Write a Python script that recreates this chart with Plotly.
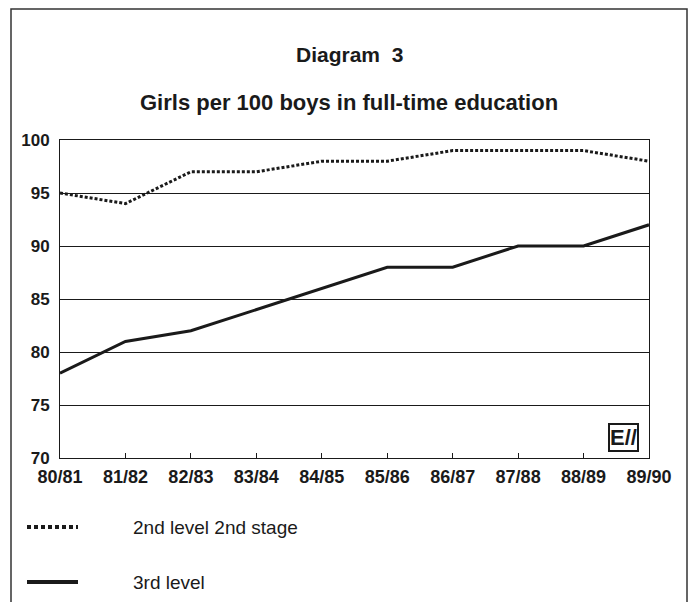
import plotly.graph_objects as go

years = ["80/81", "81/82", "82/83", "83/84", "84/85", "85/86", "86/87", "87/88", "88/89", "89/90"]
second_level = [95, 94, 97, 97, 98, 98, 99, 99, 99, 98]
third_level = [78, 81, 82, 84, 86, 88, 88, 90, 90, 92]
y_ticks = [70, 75, 80, 85, 90, 95, 100]
series_names = ["2nd level 2nd stage", "3rd level"]

W, H = 692, 602
L, R, T, B = 60, 649, 140, 458

def px(x):
    return (x - L) / (R - L)

def py(y):
    return (B - y) / (B - T)

fig = go.Figure()
fig.add_trace(go.Scatter(x=years, y=second_level, mode="lines", name=series_names[0],
                         line=dict(color="#1a1a1a", width=3, dash="3px,2px")))
fig.add_trace(go.Scatter(x=years, y=third_level, mode="lines", name=series_names[1],
                         line=dict(color="#1a1a1a", width=3)))

font_family = "Liberation Sans, Arial, sans-serif"

fig.update_layout(
    width=W, height=H,
    margin=dict(l=L, r=W - R, t=T, b=H - B),
    paper_bgcolor="white", plot_bgcolor="white",
    showlegend=False,
    font=dict(family=font_family, color="#1a1a1a"),
    xaxis=dict(type="category", range=[0, len(years) - 1], showgrid=False,
               ticks="inside", ticklen=5, tickcolor="#1a1a1a",
               showline=True, linecolor="#1a1a1a", linewidth=1, mirror=True,
               tickfont=dict(size=18, family=font_family, weight="bold"),
               zeroline=False, ticklabelstandoff=2),
    yaxis=dict(range=[70, 100], tickvals=y_ticks, showgrid=True, gridcolor="#1a1a1a",
               gridwidth=1, ticks="", showline=True, linecolor="#1a1a1a", linewidth=1,
               mirror=True, tickfont=dict(size=17, family=font_family, weight="bold"),
               zeroline=False, ticklabelstandoff=6),
)

# Titles
fig.add_annotation(text="<b>Diagram  3</b>", xref="paper", yref="paper",
                   x=px(349), y=py(55), xanchor="center", yanchor="middle",
                   showarrow=False, font=dict(size=21))
fig.add_annotation(text="<b>Girls per 100 boys in full-time education</b>", xref="paper", yref="paper",
                   x=px(349), y=py(103), xanchor="center", yanchor="middle",
                   showarrow=False, font=dict(size=22))

# Outer frame
fig.add_shape(type="rect", xref="paper", yref="paper",
              x0=px(11), x1=px(687), y0=py(620), y1=py(9),
              line=dict(color="#333333", width=1.5))

# Legend (manual)
fig.add_shape(type="line", xref="paper", yref="paper", x0=px(27), x1=px(78), y0=py(527), y1=py(527),
              line=dict(color="#1a1a1a", width=4, dash="4px,3px"))
fig.add_shape(type="line", xref="paper", yref="paper", x0=px(27), x1=px(78), y0=py(582), y1=py(582),
              line=dict(color="#1a1a1a", width=4))
fig.add_annotation(text=series_names[0], xref="paper", yref="paper", x=px(131), y=py(527),
                   xanchor="left", yanchor="middle", showarrow=False, font=dict(size=19))
fig.add_annotation(text=series_names[1], xref="paper", yref="paper", x=px(131), y=py(582),
                   xanchor="left", yanchor="middle", showarrow=False, font=dict(size=19))

# Logo
fig.add_annotation(text="<b>E//</b>", xref="paper", yref="paper", x=px(623), y=py(437),
                   xanchor="center", yanchor="middle",
                   showarrow=False, font=dict(size=22, color="#1a1a1a"),
                   bordercolor="#1a1a1a", borderwidth=2, borderpad=0, bgcolor="white")

fig.write_html("out.html")
